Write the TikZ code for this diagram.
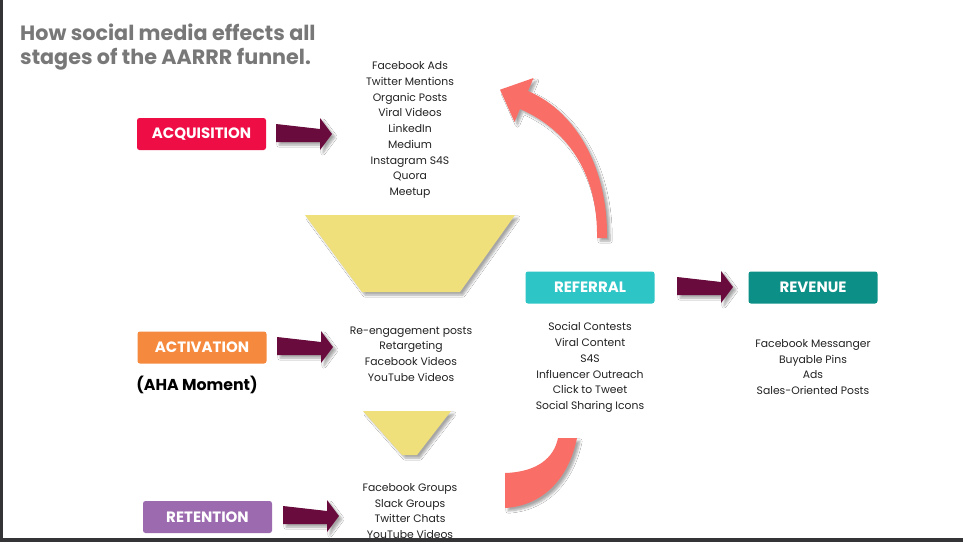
\documentclass[tikz,border=0pt]{standalone}
\usepackage{fontspec}
\setmainfont{Poppins}
\usetikzlibrary{shadows.blur}
\definecolor{acqred}{RGB}{238,13,69}
\definecolor{actorange}{RGB}{245,138,63}
\definecolor{retpurple}{RGB}{155,106,175}
\definecolor{refteal}{RGB}{46,197,199}
\definecolor{revteal}{RGB}{11,143,135}
\definecolor{maroon}{RGB}{106,11,61}
\definecolor{funnelyellow}{RGB}{239,224,124}
\definecolor{salmon}{RGB}{249,111,104}
\definecolor{titlegray}{RGB}{120,120,120}
\definecolor{itemtext}{RGB}{34,34,34}
\definecolor{frame}{RGB}{52,52,54}
\tikzset{
  stagebox/.style={rounded corners=2.5pt, minimum width=129pt, minimum height=32pt, inner sep=0pt,
    text=white, font=\fontsize{15}{18}\selectfont\bfseries},
  itemlist/.style={align=center, text=itemtext, font=\fontsize{10.8}{15.75}\selectfont, inner sep=0pt},
  softshadow/.style={blur shadow={shadow xshift=3pt, shadow yshift=-3pt, shadow blur steps=6, shadow opacity=35}},
  blockarrow/.pic={\fill[maroon, softshadow] (0,-10) -- (44,-5) -- (44,-16) -- (56,0) -- (44,16) -- (44,8) -- (0,8) -- cycle;}
}
\begin{document}
\begin{tikzpicture}[x=1pt,y=-1pt]
\useasboundingbox (0,0) rectangle (963,542);
\fill[white] (0,0) rectangle (963,542);

% title
\node[anchor=north west, align=left, text=titlegray, inner sep=0pt,
  font=\fontsize{20.7}{23.5}\selectfont\bfseries] (title) at (20,24)
  {How social media effects all\\stages of the AARRR funnel.};

% stage boxes
\node[stagebox, fill=acqred] (acq) at (201.5,134) {ACQUISITION};
\node[stagebox, fill=actorange] (act) at (202,347.5) {ACTIVATION};
\node[font=\fontsize{15.8}{18}\selectfont\bfseries, inner sep=0pt] (aha) at (197,385) {(AHA Moment)};
\node[stagebox, fill=retpurple] (ret) at (207.5,517) {RETENTION};
\node[stagebox, fill=refteal] (ref) at (590,287.5) {REFERRAL};
\node[stagebox, fill=revteal] (rev) at (813,287.5) {REVENUE};

% block arrows
\pic at (276,134) {blockarrow};
\pic at (277,347) {blockarrow};
\pic at (283,516) {blockarrow};
\pic at (677,287) {blockarrow};

% funnels
\fill[funnelyellow, softshadow] (305,215) -- (515,215) -- (460,292) -- (362,292) -- cycle;
\fill[funnelyellow, softshadow] (363,411) -- (451,411) -- (417,455) -- (402,455) -- cycle;

% curved arrows
\fill[salmon, softshadow] (607,238) .. controls (608,172) and (579,113) .. (528,91)
  -- (533.5,78) -- (500,89.7) -- (514.5,122) -- (520,109)
  .. controls (571,131) and (598,178) .. (597,238) -- cycle;
\fill[salmon, softshadow] (505,473) .. controls (537,472) and (554,458) .. (558,438)
  -- (577,438) .. controls (568,482) and (540,506) .. (505,508) -- cycle;

% item lists
\node[itemlist] (acqlist) at (410,130) {Facebook Ads\\Twitter Mentions\\Organic Posts\\Viral Videos\\LinkedIn\\Medium\\Instagram S4S\\Quora\\Meetup};
\node[itemlist] (actlist) at (411,354) {Re-engagement posts\\Retargeting\\Facebook Videos\\YouTube Videos};
\node[itemlist] (retlist) at (410,511) {Facebook Groups\\Slack Groups\\Twitter Chats\\YouTube Videos};
\node[itemlist] (reflist) at (590,367.5) {Social Contests\\Viral Content\\S4S\\Influencer Outreach\\Click to Tweet\\Social Sharing Icons};
\node[itemlist] (revlist) at (813,367) {Facebook Messanger\\Buyable Pins\\Ads\\Sales-Oriented Posts};

% frame strips
\fill[frame] (0,0) rectangle (3,542);
\fill[frame] (0,537.5) rectangle (963,542);
\end{tikzpicture}
\end{document}
